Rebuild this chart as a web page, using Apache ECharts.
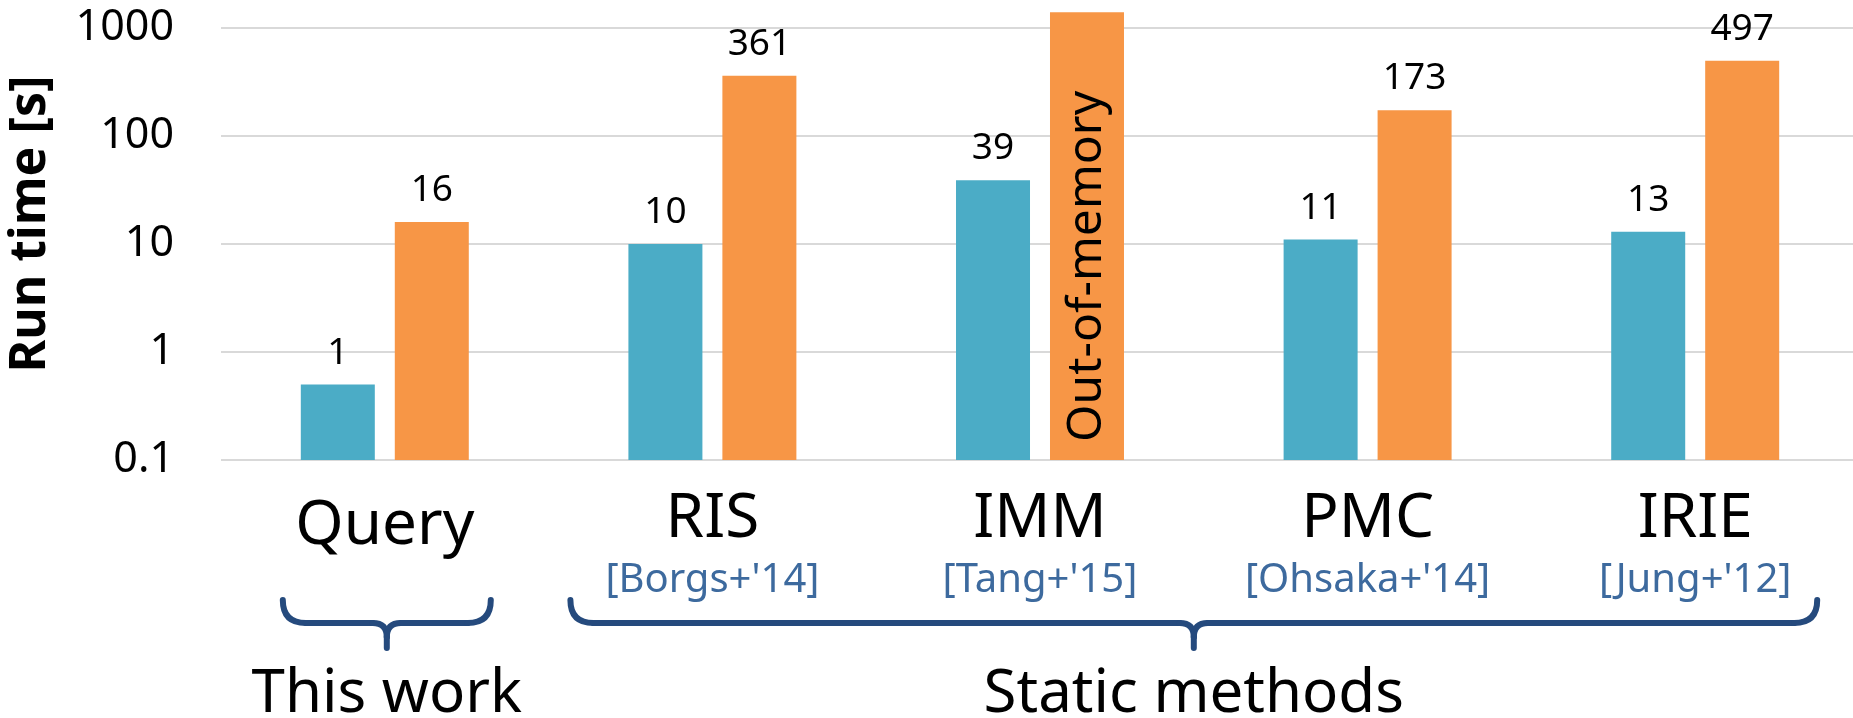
<!DOCTYPE html>
<html>
<head>
<meta charset="utf-8">
<script src="https://cdn.jsdelivr.net/npm/echarts@6/dist/echarts.min.js"></script>
<style>
  html, body { margin: 0; padding: 0; background: #fff; }
  #chart { width: 1853px; height: 718px; }
</style>
</head>
<body>
<div id="chart"></div>
<script>
// ---- data ----
const categories = ['Query', 'RIS', 'IMM', 'PMC', 'IRIE'];
const citations = ['', "[Borgs+'14]", "[Tang+'15]", "[Ohsaka+'14]", "[Jung+'12]"];
const blueValues = [0.5, 10, 39, 11, 13];
const blueLabels = ['1', '10', '39', '11', '13'];
const orangeValues = [16, 361, 1400, 173, 497];
const orangeLabels = ['16', '361', 'Out-of-memory', '173', '497'];
const yTickLabels = ['0.1', '1', '10', '100', '1000'];
const groupNames = ['This work', 'Static methods'];
const groupRanges = [[0, 0], [1, 4]];
const oomIndex = 2;

const FONT = '"Noto Sans", "Open Sans", sans-serif';
const BLUE = '#4bacc6';
const ORANGE = '#f79646';
const NAVY = '#254a7d';

const chart = echarts.init(document.getElementById('chart'), null, { renderer: 'canvas' });

const orangeData = orangeValues.map((v, i) => {
  if (i !== oomIndex) return v;
  return {
    value: v,
    label: {
      show: true,
      position: 'insideBottom',
      rotate: 90,
      align: 'left',
      verticalAlign: 'middle',
      distance: 18,
      fontSize: 48,
      color: '#000'
    }
  };
});

const option = {
  animation: false,
  textStyle: { fontFamily: FONT },
  grid: { left: 221, right: -6, top: 28, bottom: 258, containLabel: false, outerBoundsMode: 'none' },
  xAxis: {
    type: 'category',
    data: categories,
    axisLine: { show: false },
    axisTick: { show: false },
    axisLabel: {
      margin: 26,
      interval: 0,
      formatter: (val, idx) => citations[idx]
        ? '{n|' + val + '}\n{c|' + citations[idx] + '}'
        : '{q|' + val + '}',
      rich: {
        n: { fontSize: 62, lineHeight: 66, color: '#000', fontFamily: FONT },
        c: { fontSize: 40, lineHeight: 58, color: '#3d6a9e', fontFamily: FONT },
        q: { fontSize: 62, lineHeight: 66, color: '#000', fontFamily: FONT, padding: [15, 0, 0, 0] }
      }
    }
  },
  yAxis: {
    type: 'log',
    logBase: 10,
    min: 0.1,
    max: 1000,
    startValue: 0.1,
    name: 'Run time [s]',
    nameLocation: 'middle',
    nameGap: 165,
    nameTextStyle: { fontSize: 50, fontWeight: 'bold', color: '#000', fontFamily: FONT, padding: [0, 0, 0, 40] },
    axisLine: { show: false },
    axisTick: { show: false },
    splitLine: { show: true, lineStyle: { color: '#d9d9d9', width: 2 } },
    axisLabel: {
      fontSize: 43,
      color: '#000',
      margin: 47,
      formatter: (v) => {
        const e = Math.round(Math.log10(v));
        return yTickLabels[e + 1] !== undefined ? yTickLabels[e + 1] : String(v);
      }
    }
  },
  series: [
    {
      type: 'bar',
      data: blueValues,
      barWidth: 74,
      barGap: '27%',
      itemStyle: { color: BLUE },
      label: {
        show: true,
        position: 'top',
        distance: 13,
        fontSize: 37,
        color: '#000',
        formatter: (p) => blueLabels[p.dataIndex]
      }
    },
    {
      type: 'bar',
      data: orangeData,
      barWidth: 74,
      barGap: '27%',
      clip: false,
      itemStyle: { color: ORANGE },
      label: {
        show: true,
        position: 'top',
        distance: 13,
        fontSize: 37,
        color: '#000',
        formatter: (p) => orangeLabels[p.dataIndex]
      }
    }
  ]
};

chart.setOption(option);

// ---- braces and group titles (annotations placed from category positions) ----
const braceStyle = { fill: null, stroke: NAVY, lineWidth: 6, lineCap: 'round' };
function curve(x1, y1, cx, cy, x2, y2) {
  return { type: 'bezierCurve', shape: { x1: x1, y1: y1, cpx1: cx, cpy1: cy, x2: x2, y2: y2 }, style: braceStyle };
}
function seg(x1, y1, x2, y2) {
  return { type: 'line', shape: { x1: x1, y1: y1, x2: x2, y2: y2 }, style: braceStyle };
}
function brace(x1, x2, xt, yTop, yMid, yTip) {
  const r = yMid - yTop;
  const r2 = 14;
  return [
    curve(x1, yTop, x1, yMid, x1 + r, yMid),
    seg(x1 + r, yMid, xt - r2, yMid),
    curve(xt - r2, yMid, xt, yMid, xt, yMid + r2),
    seg(xt, yMid + r2, xt, yTip),
    curve(xt + r2, yMid, xt, yMid, xt, yMid + r2),
    seg(xt + r2, yMid, x2 - r, yMid),
    curve(x2 - r, yMid, x2, yMid, x2, yTop)
  ];
}

const px = (i) => chart.convertToPixel({ xAxisIndex: 0 }, i);
const yTop = 600, yMid = 623, yTip = 648, yText = 695;
const padL = [102, 142];
const padR = [106, 122];
const graphics = [];
groupRanges.forEach((rg, g) => {
  const x1 = px(rg[0]) - padL[g];
  const x2 = px(rg[1]) + padR[g];
  const xt = (x1 + x2) / 2;
  brace(x1, x2, xt, yTop, yMid, yTip).forEach((el) => graphics.push(el));
  graphics.push({
    type: 'text',
    x: xt,
    y: yText,
    style: {
      text: groupNames[g],
      fontSize: 60,
      fontFamily: FONT,
      fill: '#000',
      align: 'center',
      verticalAlign: 'middle'
    }
  });
});
chart.setOption({ graphic: graphics });
</script>
</body>
</html>
